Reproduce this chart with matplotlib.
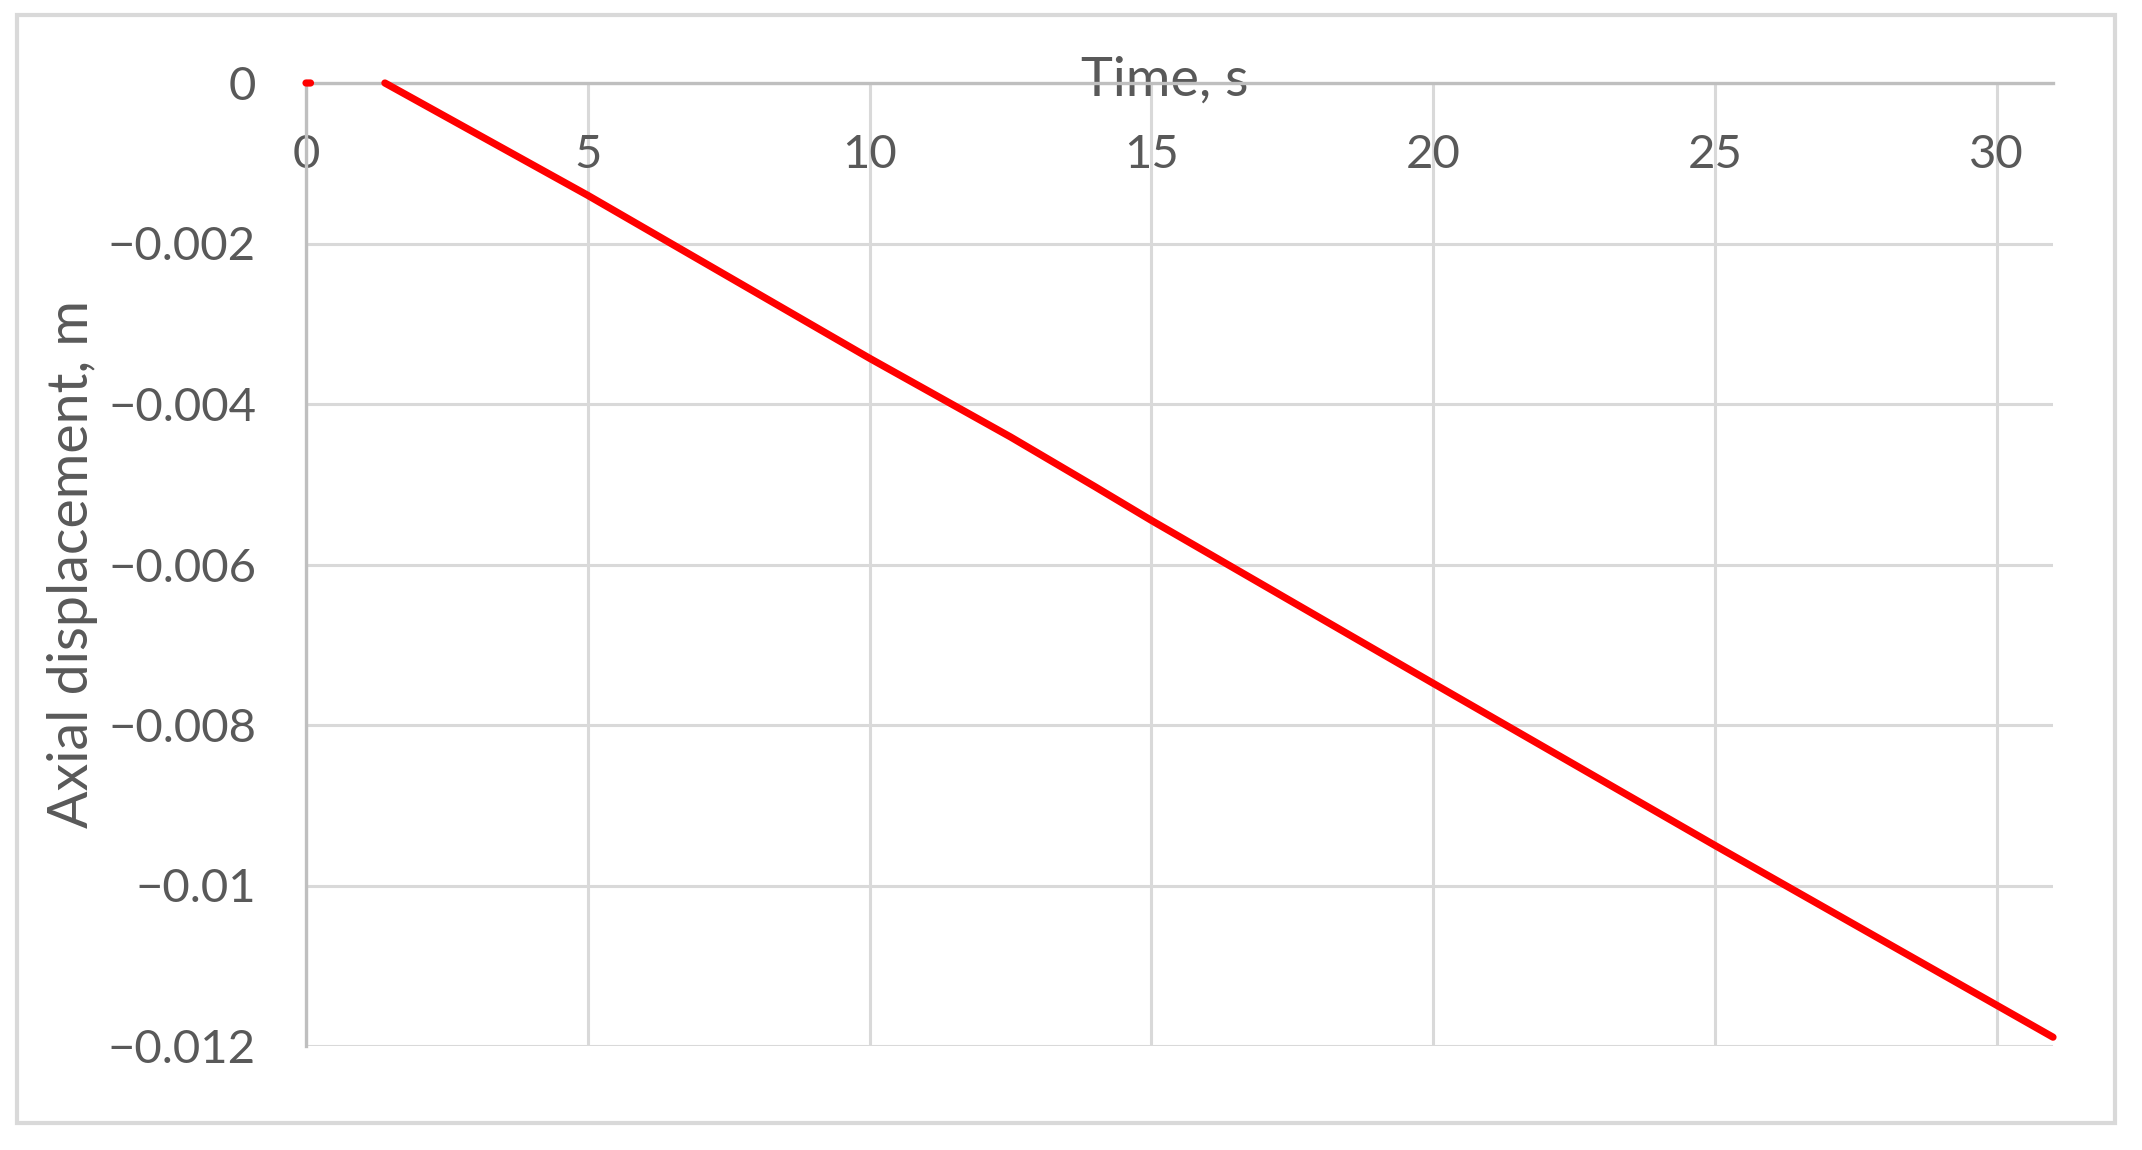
import matplotlib
matplotlib.use("Agg")
import matplotlib.pyplot as plt
from matplotlib.patches import Rectangle
import numpy as np

# Data
time_s = [0.0, 0.08, np.nan, 1.4, 5, 10, 12.5, 14, 15, 20, 25, 31]
displacement_m = [0.0, 0.0, np.nan, 0.0, -0.00140, -0.00343, -0.00441, -0.00503,
                  -0.00545, -0.00748, -0.00950, -0.01189]
x_ticks = [0, 5, 10, 15, 20, 25, 30]
y_ticks = [0, -0.002, -0.004, -0.006, -0.008, -0.01, -0.012]
y_tick_labels = ["0", "\u22120.002", "\u22120.004", "\u22120.006", "\u22120.008",
                 "\u22120.01", "\u22120.012"]
x_label = "Time, s"
y_label = "Axial displacement, m"

plt.rcParams['font.family'] = ['Lato', 'DejaVu Sans']
text_color = "#595959"
grid_color = "#d9d9d9"
axis_color = "#bfbfbf"

W, H = 2142, 1150
fig = plt.figure(figsize=(W / 100, H / 100), dpi=100)
fig.patch.set_facecolor("white")

# outer chart frame
fig.patches.append(Rectangle((17 / W, 1 - 1123 / H), (2115 - 17) / W, (1123 - 15) / H,
                             transform=fig.transFigure, fill=False,
                             edgecolor=grid_color, linewidth=3.0))

ax = fig.add_axes([306 / W, 1 - 1046 / H, (2053 - 306) / W, (1046 - 83) / H])
ax.plot(time_s, displacement_m, color="#ff0000", linewidth=5.2,
        solid_capstyle="round", zorder=5, clip_on=False)

ax.set_xlim(0, 31)
ax.set_ylim(-0.012, 0)
ax.set_xticks(x_ticks)
ax.set_yticks(y_ticks)
ax.set_yticklabels(y_tick_labels)

ax.grid(True, color=grid_color, linewidth=2.2)
ax.set_axisbelow(True)

for s in ["right", "bottom"]:
    ax.spines[s].set_visible(False)
ax.spines["left"].set_color(axis_color)
ax.spines["left"].set_linewidth(2.4)
ax.spines["top"].set_color(axis_color)
ax.spines["top"].set_linewidth(2.4)

ax.xaxis.set_ticks_position("top")
ax.tick_params(axis="x", length=0, labelsize=34, labelcolor=text_color,
               labeltop=True, labelbottom=False, pad=-37)
for lab in ax.get_xticklabels():
    lab.set_va("top")
ax.tick_params(axis="y", length=0, labelsize=34, labelcolor=text_color, pad=36)

ax.set_xlabel(x_label, fontsize=39, color=text_color)
ax.xaxis.set_label_position("top")
ax.xaxis.label.set_va("center")
ax.xaxis.set_label_coords((1165 - 306) / (2053 - 306), 1 + (83 - 80) / (1046 - 83))

ax.set_ylabel(y_label, fontsize=40, color=text_color)
ax.yaxis.label.set_va("center")
ax.yaxis.set_label_coords((72 - 306) / (2053 - 306), 0.5)

fig.savefig("out.png", dpi=100, facecolor="white")
